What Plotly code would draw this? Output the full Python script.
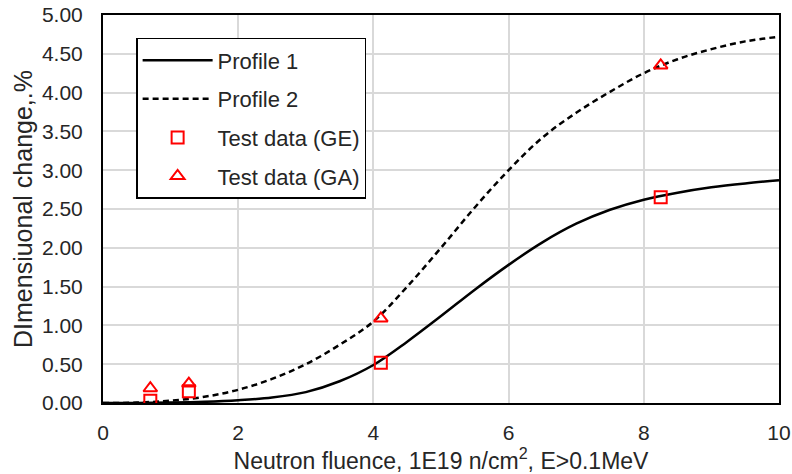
import plotly.graph_objects as go

# Curve sample points
profile_x = [0, 0.5, 1.0, 1.5, 2.0, 2.5, 3.0, 3.5, 4.0, 4.5, 5.0,
             5.5, 6.0, 6.5, 7.0, 7.5, 8.0, 8.5, 9.0, 9.5, 10.0]
profile1_y = [0.0, 0.0, 0.005, 0.015, 0.035, 0.07, 0.14, 0.28, 0.49, 0.79, 1.12,
              1.46, 1.78, 2.07, 2.31, 2.49, 2.62, 2.71, 2.78, 2.83, 2.87]
profile2_y = [0.0, 0.005, 0.03, 0.08, 0.17, 0.31, 0.50, 0.75, 1.05, 1.50, 2.00,
              2.52, 3.00, 3.42, 3.74, 4.01, 4.25, 4.43, 4.56, 4.66, 4.72]

# Test data
ge_x = [0.70, 1.27, 4.11, 8.25]
ge_y = [0.03, 0.15, 0.52, 2.65]
ga_x = [0.70, 1.27, 4.11, 8.25]
ga_y = [0.19, 0.25, 1.09, 4.35]

x_ticks = [0, 2, 4, 6, 8, 10]
y_ticks = [0.0, 0.5, 1.0, 1.5, 2.0, 2.5, 3.0, 3.5, 4.0, 4.5, 5.0]

FONT = "Liberation Sans, Arial, sans-serif"
TXT = "#262626"

fig = go.Figure()
fig.add_trace(go.Scatter(x=profile_x, y=profile1_y, mode="lines", name="Profile 1",
                         line=dict(color="black", width=2.5, shape="spline"),
                         legendgroup="a"))
fig.add_trace(go.Scatter(x=profile_x, y=profile2_y, mode="lines", name="Profile 2",
                         line=dict(color="black", width=2.5, dash="6px,4px", shape="spline"),
                         legendgroup="b"))
fig.add_trace(go.Scatter(x=ge_x, y=ge_y, mode="markers", name="Test data (GE)",
                         marker=dict(symbol="square-open", size=12, color="red",
                                     line=dict(color="red", width=2)),
                         legendgroup="c"))
fig.add_trace(go.Scatter(x=ga_x, y=ga_y, mode="markers", name="Test data (GA)",
                         marker=dict(symbol="triangle-up-open", size=12, color="red",
                                     line=dict(color="red", width=2)),
                         legendgroup="d"))

fig.update_layout(
    width=792, height=474,
    margin=dict(l=103, r=13, t=15, b=71),
    paper_bgcolor="white", plot_bgcolor="white",
    font=dict(family=FONT, size=21, color=TXT),
    showlegend=True,
    legend=dict(x=0.049, y=0.941, xanchor="left", yanchor="top",
                bgcolor="white", bordercolor="black", borderwidth=1.5,
                font=dict(family=FONT, size=22, color=TXT),
                itemwidth=70, tracegroupgap=7, traceorder="grouped"),
)
fig.update_xaxes(range=[0, 10], tickvals=x_ticks, ticktext=[str(v) for v in x_ticks],
                 showgrid=True, gridcolor="#d9d9d9", gridwidth=1.5,
                 showline=True, linecolor="black", linewidth=2, mirror=True,
                 zeroline=False, ticks="", ticklabelstandoff=10, automargin=False,
                 tickfont=dict(size=21),
                 title=dict(text="Neutron fluence, 1E19 n/cm<sup>2</sup>, E>0.1MeV",
                            standoff=4, font=dict(size=23)))
fig.update_yaxes(range=[0, 5], tickvals=y_ticks, ticktext=[f"{v:.2f}" for v in y_ticks],
                 showgrid=True, gridcolor="#d9d9d9", gridwidth=1.5,
                 showline=True, linecolor="black", linewidth=2, mirror=True,
                 zeroline=False, ticks="", ticklabelstandoff=14, automargin=False,
                 tickfont=dict(size=21),
                 title=dict(text="DImensiuonal change,.%", standoff=2, font=dict(size=25)))

fig.write_html("out.html")
